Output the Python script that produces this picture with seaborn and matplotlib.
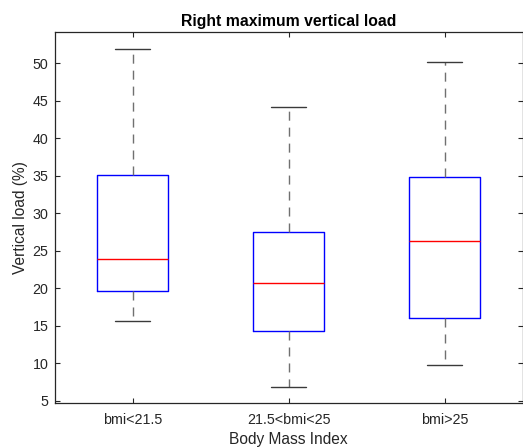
import matplotlib
matplotlib.use("Agg")
import matplotlib.pyplot as plt
import seaborn as sns
import pandas as pd

# Five-number summaries (min, Q1, median, Q3, max) of vertical load per BMI group
groups = ["bmi<21.5", "21.5<bmi<25", "bmi>25"]
load_low = [15.7, 19.7, 23.9, 35.1, 51.9]
load_mid = [6.9, 14.3, 20.65, 27.45, 44.1]
load_high = [9.75, 16.0, 26.35, 34.9, 50.1]
y_ticks = [5, 10, 15, 20, 25, 30, 35, 40, 45, 50]

df = pd.DataFrame({
    "bmi": [groups[0]] * len(load_low) + [groups[1]] * len(load_mid) + [groups[2]] * len(load_high),
    "load": load_low + load_mid + load_high,
})

sns.set_theme(style="white")
plt.rcParams["font.family"] = ["Liberation Sans", "DejaVu Sans"]
ink = "#262626"

fig = plt.figure(figsize=(5.23, 4.48), dpi=100)
ax = fig.add_axes([54.5 / 523, 45 / 448, 468 / 523, 370.5 / 448])

sns.boxplot(
    data=df, x="bmi", y="load", order=groups, ax=ax,
    width=0.45, fill=False, whis=(0, 100), showfliers=False,
    linecolor="blue",
    boxprops=dict(color="#0000ff", linewidth=1.0),
    medianprops=dict(color="#ff0000", linewidth=1.0),
    whiskerprops=dict(color="#707070", linewidth=1.0, linestyle=(0, (6.5, 5.0))),
    capprops=dict(color="#3a3a3a", linewidth=1.0),
)

ax.set_xlim(-0.5, 2.5)
ax.set_ylim(4.7, 54.1)
ax.set_yticks(y_ticks)
ax.set_yticklabels([str(v) for v in y_ticks])

for side in ["left", "right", "top", "bottom"]:
    ax.spines[side].set_visible(True)
    ax.spines[side].set_color(ink)
    ax.spines[side].set_linewidth(0.9)

ax.tick_params(axis="both", direction="in", length=3.6, width=0.8, color=ink,
               labelcolor=ink, labelsize=10.3, top=True, right=True,
               bottom=True, left=True)
ax.tick_params(axis="y", pad=4.5)
ax.tick_params(axis="x", pad=7.5)

ax.set_xlabel("Body Mass Index", fontsize=11.2, color=ink, labelpad=3.5)
ax.set_ylabel("Vertical load (%)", fontsize=11.2, color=ink, labelpad=3)
ax.set_title("Right maximum vertical load", fontsize=11.3, fontweight="bold",
             color="black", pad=5)

fig.savefig("out.png", dpi=100)
